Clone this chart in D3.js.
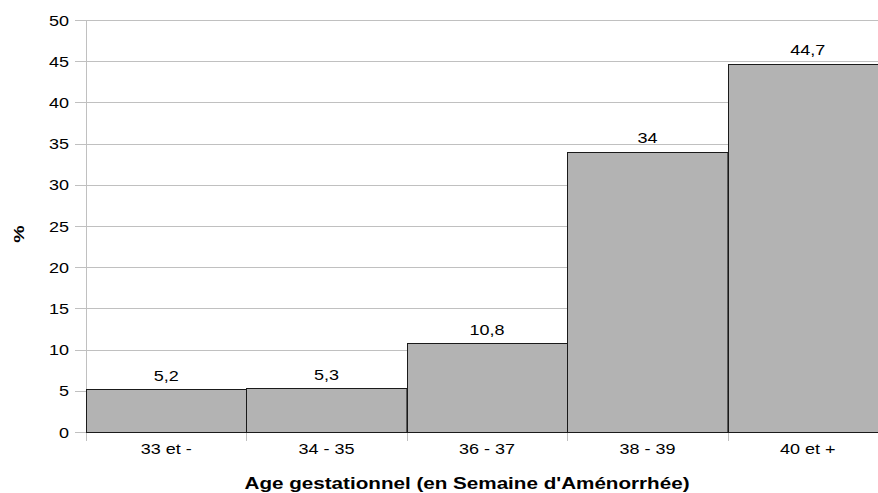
<!DOCTYPE html>
<html>
<head>
<meta charset="utf-8">
<script src="https://cdn.jsdelivr.net/npm/d3@7"></script>
<style>
  html, body { margin: 0; padding: 0; background: #fff; overflow: hidden; }
  svg { display: block; font-family: "Liberation Sans", Arial, sans-serif; }
</style>
</head>
<body>
<svg id="chart" width="878" height="493"></svg>
<script>
// Répartition par âge gestationnel
const categories = ["33 et -", "34 - 35", "36 - 37", "38 - 39", "40 et +"];
const values = [5.2, 5.3, 10.8, 34, 44.7];
const yTicks = [0, 5, 10, 15, 20, 25, 30, 35, 40, 45, 50];

const svg = d3.select("#chart");
const margin = { left: 86, top: 20, bottom: 61 };
const plotRight = 888;
const plotBottom = 493 - margin.bottom;
const STRETCH = 1.2; // wide glyphs

const x = d3.scaleBand().domain(categories).range([margin.left, plotRight]).padding(0);
const y = d3.scaleLinear().domain([0, 50]).range([plotBottom, margin.top]);

const fmt = v => String(v).replace(".", ",");

// places a horizontally widened text at (px, py)
function wideText(sel, px, py, sx) {
  return sel.attr("transform", (d, i) =>
    `translate(${typeof px === "function" ? px(d, i) : px},${typeof py === "function" ? py(d, i) : py}) scale(${sx},1)`);
}

// horizontal gridlines
svg.append("g")
  .selectAll("line")
  .data(yTicks)
  .join("line")
  .attr("x1", margin.left - 11)
  .attr("x2", plotRight)
  .attr("y1", d => Math.round(y(d)) + 0.5)
  .attr("y2", d => Math.round(y(d)) + 0.5)
  .attr("stroke", "#c0c0c0")
  .attr("stroke-width", 1);

// y tick labels
svg.append("g")
  .selectAll("text")
  .data(yTicks)
  .join("text")
  .call(wideText, 69, d => y(d) + 5.5, STRETCH)
  .attr("text-anchor", "end")
  .attr("font-size", 15)
  .attr("fill", "#000")
  .text(d => d);

// vertical axis line
svg.append("line")
  .attr("x1", margin.left + 0.5).attr("x2", margin.left + 0.5)
  .attr("y1", margin.top).attr("y2", plotBottom + 8)
  .attr("stroke", "#c0c0c0");

// category boundary ticks
const bounds = categories.map(c => x(c));
svg.append("g")
  .selectAll("line")
  .data(bounds)
  .join("line")
  .attr("x1", d => Math.round(d) + 0.5)
  .attr("x2", d => Math.round(d) + 0.5)
  .attr("y1", plotBottom)
  .attr("y2", plotBottom + 9)
  .attr("stroke", "#c0c0c0");

// bars
svg.append("g")
  .selectAll("rect")
  .data(values)
  .join("rect")
  .attr("x", (d, i) => Math.round(x(categories[i])) + 0.5)
  .attr("y", d => Math.round(y(d)) + 0.5)
  .attr("width", x.bandwidth())
  .attr("height", d => Math.round(y(0)) - Math.round(y(d)))
  .attr("fill", "#b3b3b3")
  .attr("stroke", "#1a1a1a")
  .attr("stroke-width", 1);

// value labels
svg.append("g")
  .selectAll("text")
  .data(values)
  .join("text")
  .call(wideText, (d, i) => x(categories[i]) + x.bandwidth() / 2, d => y(d) - 8.5, STRETCH)
  .attr("text-anchor", "middle")
  .attr("font-size", 15)
  .attr("fill", "#000")
  .text(fmt);

// category labels
svg.append("g")
  .selectAll("text")
  .data(categories)
  .join("text")
  .call(wideText, d => x(d) + x.bandwidth() / 2, plotBottom + 22, STRETCH)
  .attr("text-anchor", "middle")
  .attr("font-size", 15)
  .attr("fill", "#000")
  .text(d => d);

// axis titles
svg.append("text")
  .attr("transform", "translate(467,489) scale(1.29,1)")
  .attr("text-anchor", "middle")
  .attr("font-size", 16)
  .attr("font-weight", "bold")
  .text("Age gestationnel (en Semaine d'Aménorrhée)");

svg.append("text")
  .attr("transform", "translate(24,234) rotate(-90) scale(1.3,1)")
  .attr("text-anchor", "middle")
  .attr("font-size", 15)
  .attr("font-weight", "bold")
  .text("%");
</script>
</body>
</html>
